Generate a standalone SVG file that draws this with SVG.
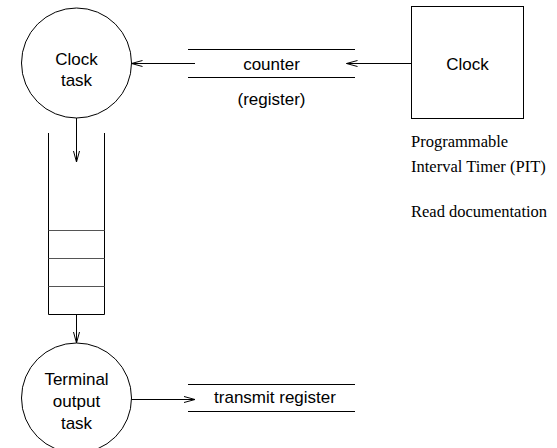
<svg xmlns="http://www.w3.org/2000/svg" width="557" height="448" viewBox="0 0 557 448">
  <style>
    .shape { fill: none; stroke: #000; stroke-width: 1; }
    .sep { fill: none; stroke: #555; stroke-width: 1; }
    .edge { fill: none; stroke: #000; stroke-width: 1; }
    .sans { font-family: "Liberation Sans", Arial, Helvetica, sans-serif; font-size: 17px; fill: #000; text-anchor: middle; }
    .serif { font-family: "Liberation Serif", "Times New Roman", Times, serif; font-size: 16.5px; fill: #000; }
  </style>
  <defs>
    <marker id="arrow" markerUnits="userSpaceOnUse" markerWidth="13" markerHeight="8" refX="11" refY="4" orient="auto" overflow="visible">
      <path d="M0,1 L11,4 L0,7" fill="none" stroke="#000" stroke-width="1"/>
    </marker>
  </defs>
  <rect width="557" height="448" fill="#fff"/>

  <!-- process: clock task -->
  <g id="clock-task">
    <circle class="shape" cx="76.5" cy="63" r="55"/>
    <text class="sans" x="76.5" y="65">Clock</text>
    <text class="sans" x="76.5" y="86">task</text>
  </g>

  <!-- data store: counter register -->
  <g id="counter">
    <line class="shape" x1="188" y1="49.5" x2="355" y2="49.5"/>
    <line class="shape" x1="188" y1="77.5" x2="355" y2="77.5"/>
    <text class="sans" x="271.5" y="69.5">counter</text>
    <text class="sans" x="271.5" y="105">(register)</text>
  </g>

  <!-- external device: clock -->
  <g id="clock">
    <rect class="shape" x="411.5" y="6.5" width="112" height="112"/>
    <text class="sans" x="467.5" y="70">Clock</text>
  </g>

  <!-- notes under the clock -->
  <g id="pit-notes">
    <text class="serif" x="411" y="147">Programmable</text>
    <text class="serif" x="411" y="171.5">Interval Timer (PIT)</text>
    <text class="serif" x="411" y="217">Read documentation</text>
  </g>

  <!-- queue between the tasks -->
  <g id="queue">
    <line class="shape" x1="48.5" y1="133" x2="48.5" y2="314.5"/>
    <line class="shape" x1="104.5" y1="133" x2="104.5" y2="314.5"/>
    <line class="sep" x1="48.5" y1="230.5" x2="104.5" y2="230.5"/>
    <line class="sep" x1="48.5" y1="258.5" x2="104.5" y2="258.5"/>
    <line class="sep" x1="48.5" y1="286.5" x2="104.5" y2="286.5"/>
    <line class="shape" x1="48.5" y1="314.5" x2="104.5" y2="314.5"/>
  </g>

  <!-- process: terminal output task -->
  <g id="terminal-task">
    <circle class="shape" cx="76.5" cy="398" r="55"/>
    <text class="sans" x="76.5" y="385">Terminal</text>
    <text class="sans" x="76.5" y="407">output</text>
    <text class="sans" x="76.5" y="429">task</text>
  </g>

  <!-- data store: transmit register -->
  <g id="transmit-register">
    <line class="shape" x1="188" y1="384.5" x2="355" y2="384.5"/>
    <line class="shape" x1="188" y1="411.5" x2="355" y2="411.5"/>
    <text class="sans" x="275" y="403">transmit register</text>
  </g>

  <!-- data flows -->
  <g id="connectors">
    <line class="edge" x1="411.5" y1="63.5" x2="346.5" y2="63.5" marker-end="url(#arrow)"/>
    <line class="edge" x1="195" y1="63.5" x2="131.5" y2="63.5" marker-end="url(#arrow)"/>
    <line class="edge" x1="76.5" y1="118" x2="76.5" y2="162" marker-end="url(#arrow)"/>
    <line class="edge" x1="76.5" y1="314.5" x2="76.5" y2="343" marker-end="url(#arrow)"/>
    <line class="edge" x1="131.5" y1="399.5" x2="195" y2="399.5" marker-end="url(#arrow)"/>
  </g>
</svg>
